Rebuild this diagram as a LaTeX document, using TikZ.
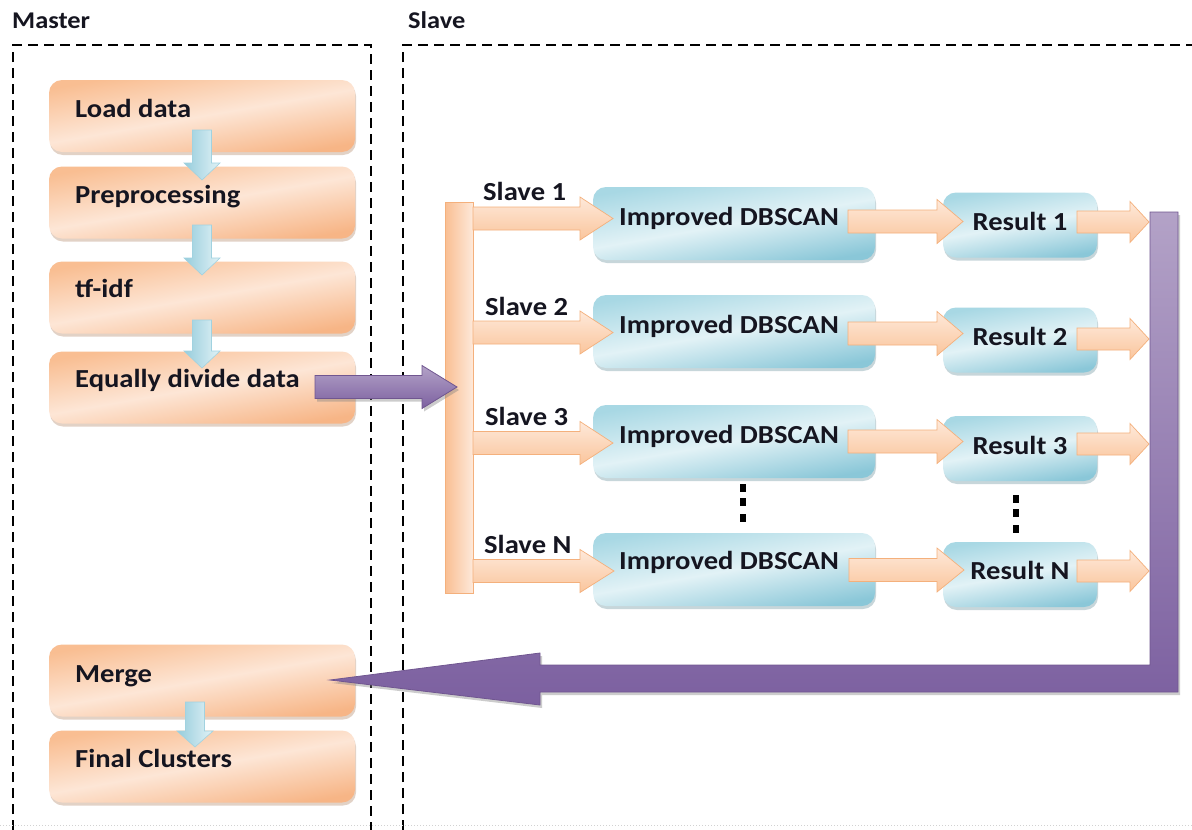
\documentclass[tikz,border=0pt]{standalone}
\usepackage{fontspec}
\setmainfont{Carlito}[FakeStretch=1.1]
\usetikzlibrary{shadows}
\definecolor{orgD}{HTML}{F9BE92}
\definecolor{orgM}{HTML}{FDE6D6}
\definecolor{orgB}{HTML}{F7B586}
\definecolor{bluT}{HTML}{A8D8E4}
\definecolor{bluM}{HTML}{E2F2F6}
\definecolor{bluB}{HTML}{8AC7D8}
\definecolor{purD}{HTML}{7C60A0}
\definecolor{purL}{HTML}{B3A2C7}
\definecolor{arrO}{HTML}{F4B07C}
\definecolor{arrF}{HTML}{FAC59C}
\definecolor{arrL}{HTML}{FEE9DA}
\definecolor{txtC}{HTML}{151520}
\newcommand\blockarr[7]{%
  \path[#1] (#2,#5-#6) -- (#3,#5-#6) -- (#3,#5-#7) -- (#4,#5) -- (#3,#5+#7) -- (#3,#5+#6) -- (#2,#5+#6) -- cycle;}
\newcommand\vblockarr[7]{%
  \path[#1] (#2-#6,#3) -- (#2-#6,#4) -- (#2-#7,#4) -- (#2,#5) -- (#2+#7,#4) -- (#2+#6,#4) -- (#2+#6,#3) -- cycle;}
\begin{document}
\begin{tikzpicture}[x=1pt,y=-1pt,
  obox/.style={rectangle, rounded corners=13pt, inner sep=0pt, minimum width=306pt, minimum height=72pt,
    top color=orgD, bottom color=orgB, middle color=orgM, shading angle=10,
    drop shadow={shadow xshift=1pt, shadow yshift=-3pt, opacity=0.35, fill=orgB!70!black}},
  blubox/.style={rectangle, rounded corners=13pt, inner sep=0pt, minimum height=73pt,
    top color=bluT, bottom color=bluB, middle color=bluM, shading angle=10,
    drop shadow={shadow xshift=1pt, shadow yshift=-3pt, opacity=0.35, fill=bluB!70!black}},
  txt/.style={inner sep=0pt, font=\fontsize{26}{30}\selectfont\bfseries, text=txtC},
  hdr/.style={inner sep=0pt, font=\fontsize{24}{28}\selectfont\bfseries, text=txtC},
  orarr/.style={draw=arrO, line width=0.7pt, top color=arrL, bottom color=arrF},
  blarr/.style={draw=bluB!80, line width=0.6pt, left color=bluB!90, right color=bluM},
  purarr/.style={draw=purD!90!black, line width=0.8pt, top color=purL, bottom color=purD,
    drop shadow={shadow xshift=2pt, shadow yshift=-3pt, opacity=0.4}},
  dashline/.style={line width=2pt, dash pattern=on 10pt off 6pt, black},
  dotsq/.style={rectangle, fill=black, inner sep=0pt, minimum width=6pt, minimum height=8pt}
]
\useasboundingbox (0,0) rectangle (1192,830);
\fill[white] (0,0) rectangle (1192,830);

% headers and dashed regions
\node[hdr, anchor=base west] (master) at (12,28) {Master};
\node[hdr, anchor=base west] (slave) at (408,28) {Slave};
\draw[dashline] (13,830) -- (13,45) -- (371,45) -- (371,830);
\draw[dashline] (403,830) -- (403,45) -- (1192,45);
\draw[gray!35, dotted, line width=1pt] (0,825) -- (1192,825);

% master boxes
\node[obox] (load)  at (202,116) {};
\node[obox] (prep)  at (202,202.5) {};
\node[obox] (tfidf) at (202,297.5) {};
\node[obox] (equal) at (202,387.5) {};
\node[obox] (merge) at (202,680.5) {};
\node[obox] (final) at (202,766.5) {};
\node[txt, anchor=base west] (tload)  at (75,117) {Load data};
\node[txt, anchor=base west] (tprep)  at (75,203) {Preprocessing};
\node[txt, anchor=base west] (ttfidf) at (75,297) {tf-idf};
\node[txt, anchor=base west] (tequal) at (75,387) {Equally divide data};
\node[txt, anchor=base west] (tmerge) at (75,682) {Merge};
\node[txt, anchor=base west] (tfinal) at (75,767) {Final Clusters};

% small blue arrows
\vblockarr{blarr}{202}{130}{163}{180}{9.5}{18}
\vblockarr{blarr}{202}{225}{258}{275}{9.5}{18}
\vblockarr{blarr}{202}{320}{351}{368}{9.5}{18}
\vblockarr{blarr}{195}{702}{731}{747}{9.5}{18}

% slave boxes
\foreach \n/\y in {1/223.5, 2/331.5, 3/441.5, N/569.5}{
  \node[blubox, minimum width=282pt] (db\n) at (734,\y) {};
}
\foreach \n/\y in {1/225, 2/340, 3/448.5, N/574.5}{
  \node[blubox, minimum width=154pt, minimum height=65pt] (res\n) at (1020,\y) {};
}
\node[txt, anchor=base] (tdb1) at (729,225) {Improved DBSCAN};
\node[txt, anchor=base] (tdb2) at (729,333) {Improved DBSCAN};
\node[txt, anchor=base] (tdb3) at (729,443) {Improved DBSCAN};
\node[txt, anchor=base] (tdbN) at (729,569) {Improved DBSCAN};
\node[txt, anchor=base] (tres1) at (1020,230) {Result 1};
\node[txt, anchor=base] (tres2) at (1020,345) {Result 2};
\node[txt, anchor=base] (tres3) at (1020,454) {Result 3};
\node[txt, anchor=base] (tresN) at (1020,579) {Result N};

% slave labels
\node[txt, anchor=base west] (s1) at (483,200) {Slave 1};
\node[txt, anchor=base west] (s2) at (485,315) {Slave 2};
\node[txt, anchor=base west] (s3) at (485,425) {Slave 3};
\node[txt, anchor=base west] (sN) at (484,553) {Slave N};

% orange distribution bar
\path[draw=arrO, line width=0.8pt, left color=orgD, right color=arrL] (445,202) rectangle (473,593);

% orange arrows: bar -> DBSCAN
\blockarr{orarr}{473}{580}{613}{218.5}{11.5}{21.5}
\blockarr{orarr}{473}{580}{613}{332.5}{11.5}{21.5}
\blockarr{orarr}{473}{580}{613}{443}{11.5}{21.5}
\blockarr{orarr}{473}{580}{614}{571}{11.5}{21.5}
% DBSCAN -> Result
\blockarr{orarr}{848}{937}{963}{221.5}{11.5}{22}
\blockarr{orarr}{848}{937}{963}{333.5}{11.5}{22}
\blockarr{orarr}{848}{937}{963}{441.5}{11.5}{22}
\blockarr{orarr}{849}{937}{964}{570}{11.5}{22}
% Result -> collector
\blockarr{orarr}{1077}{1130}{1149}{222}{11}{20.5}
\blockarr{orarr}{1077}{1130}{1149}{339}{11}{20.5}
\blockarr{orarr}{1077}{1130}{1149}{444}{11}{20.5}
\blockarr{orarr}{1077}{1130}{1149}{571}{11}{20.5}

% dots
\node[dotsq] (da) at (743,487.5) {};
\node[dotsq] (db) at (743,501.5) {};
\node[dotsq] (dc) at (743,517.5) {};
\node[dotsq] (dd) at (1016,499) {};
\node[dotsq] (de) at (1016,512.5) {};
\node[dotsq] (df) at (1016,528.5) {};

% purple arrows
\blockarr{purarr}{315}{422}{457}{387}{11.5}{21.5}
\path[purarr] (1150,212) -- (1178,212) -- (1178,692) -- (540,692) -- (540,705) -- (330,680)
  -- (540,653) -- (540,665) -- (1150,665) -- cycle;
\end{tikzpicture}
\end{document}
